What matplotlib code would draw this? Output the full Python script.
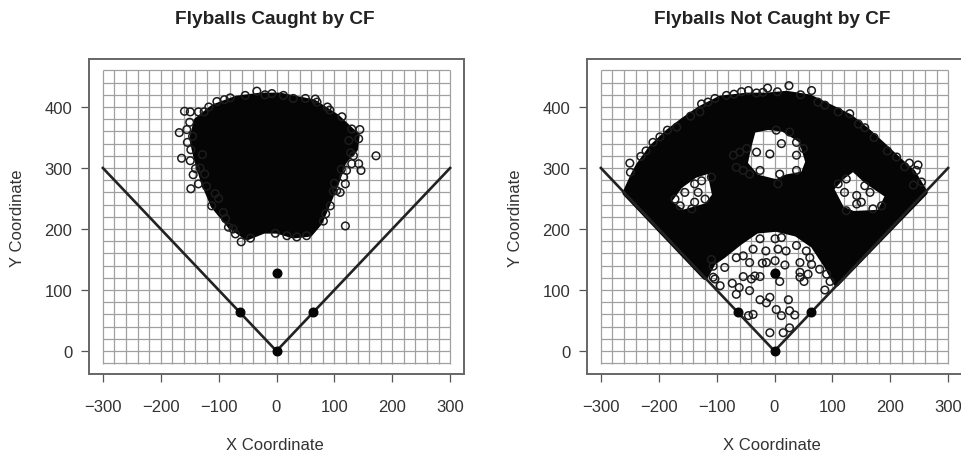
import matplotlib
matplotlib.use("Agg")
import numpy as np
import matplotlib.pyplot as plt
from matplotlib.path import Path
from matplotlib.patches import PathPatch

plt.rcParams['font.family'] = ['Liberation Sans', 'DejaVu Sans']

titles = ["Flyballs Caught by CF", "Flyballs Not Caught by CF"]
x_label = "X Coordinate"
y_label = "Y Coordinate"
x_ticks = [-300, -200, -100, 0, 100, 200, 300]
y_ticks = [0, 100, 200, 300, 400]
foul_x = [-300, 0, 300]
foul_y = [300, 0, 300]
base_x = [0, 63.6, -63.6, 0]
base_y = [0, 63.6, 63.6, 127.3]

# Saturated (fully overplotted) regions, read as outlines from the picture
caught_mass_x = [-138,-109,-69,-28,6,64,104,139,136,116,104,87,75,58,29,1,-22,-51,-80,-109,-126,-138,-146]
caught_mass_y = [378,400,414,419,419,408,384,353,331,310,277,238,211,192,189,197,197,186,205,238,277,315,348]

missed_mass_x = [-258,-244,-235,-212,-184,-158,-129,-94,-48,-14,21,61,96,130,159,188,216,239,260,107,90,67,38,3,-31,-60,-89,-106,-120]
missed_mass_y = [259,288,304,334,359,378,397,414,419,419,422,416,400,384,362,337,312,293,260,110,140,173,192,200,197,178,156,145,121]
hole_center_x = [-37,-11,15,47,58,50,21,3,-31,-51,-45]
hole_center_y = [362,367,364,345,310,290,285,277,285,307,334]
hole_left_x = [-112,-103,-117,-158,-184,-163,-138]
hole_left_y = [296,255,238,227,244,271,288]
hole_right_x = [136,159,196,182,136,116,98,116]
hole_right_y = [299,279,255,227,225,233,266,285]

# Individually visible balls
caught_x = [-34,-8,-54,67,50,12,29,-103,-117,-135,-149,-159,-168,-155,-154,144,142,146,142,130,172,119,-164,-149,-140,-144,-135,-148,-121,-106,-112,-92,-83,-71,-61,-45,-2,18,35,52,81,110,119,116,121,104,93,133,113,130,
            -150,-145,-132,-128,-124,-90,-80,-125,125,128,112,100,85,92,70,98,-20,-88,-100,-75,88,-148]
caught_y = [426,422,419,413,414,419,414,409,400,392,392,393,358,363,342,363,348,296,307,307,320,205,316,312,299,289,274,266,270,258,238,227,203,192,179,185,193,189,187,189,213,260,274,285,296,263,238,320,384,364,
            375,352,300,322,290,412,415,392,345,325,298,275,225,395,408,262,420,217,250,200,400,330]

missed_x = [-250,-249,-231,-198,-169,-126,-129,-103,-83,-57,-45,-31,-12,25,64,87,130,156,211,233,248,254,245,
            -222,-210,-185,-145,-115,-70,-20,5,45,75,110,145,172,195,225,240,
            -8,15,26,-37,-45,35,26,12,3,-8,-25,-14,24,-43,-66,-61,-73,-94,-54,-40,-25,-34,9,1,44,44,51,58,64,87,96,90,18,1,-14,-21,-15,6,20,-37,-54,-66,38,55,-25,1,12,-86,-106,-109,-106,-103,78,61,44,-43,
            12,-8,-25,9,38,38,6,3,26,38,50,-31,-48,-60,-66,-54,-43,-71,
            -138,-126,-132,-155,-172,-138,-120,-163,-143,-109,
            124,110,121,142,165,150,142,124,170,185,156]
missed_y = [308,293,319,351,367,405,392,414,419,425,427,423,431,435,427,403,389,366,318,308,305,277,296,
            328,342,362,385,408,421,424,425,420,408,392,372,350,328,302,272,
            30,30,38,60,58,59,66,58,68,88,84,79,84,99,93,104,111,107,122,118,122,123,114,126,129,121,114,126,142,100,114,126,141,148,145,144,164,167,164,167,156,153,173,164,184,184,186,137,139,150,121,118,134,153,145,145,
            340,323,296,290,321,296,274,362,359,342,332,326,332,326,301,296,290,321,
            274,279,260,260,249,244,249,238,233,285,
            282,274,260,255,260,244,241,230,233,238,271]

W, H = 961, 452
fig = plt.figure(figsize=(W / 100, H / 100), dpi=100)
boxes = [(89, 60, 375, 315), (587, 60, 375, 315)]
axes = []
for (l, t, w, h) in boxes:
    axes.append(fig.add_axes([l / W, 1 - (t + h) / H, w / W, h / H]))


def ring(xs, ys, reverse=False):
    pts = list(zip(xs, ys))
    if reverse:
        pts = pts[::-1]
    return pts + [pts[0]], [Path.MOVETO] + [Path.LINETO] * (len(pts) - 1) + [Path.CLOSEPOLY]


def compound(rings):
    verts, codes = [], []
    for v, c in rings:
        verts += v
        codes += c
    return Path(verts, codes)


paths = [
    compound([ring(caught_mass_x, caught_mass_y)]),
    compound([ring(missed_mass_x, missed_mass_y),
              ring(hole_center_x, hole_center_y, True),
              ring(hole_left_x, hole_left_y, True),
              ring(hole_right_x, hole_right_y, True)]),
]
balls = [(caught_x, caught_y), (missed_x, missed_y)]

for i, ax in enumerate(axes):
    ax.set_xlim(-324, 324)
    ax.set_ylim(-37.7, 478.7)
    ax.vlines(np.arange(-300, 301, 20), -21, 460, color="#a0a0a0", lw=0.9, zorder=1)
    ax.hlines(np.arange(-20, 461, 20), -300, 300, color="#a0a0a0", lw=0.9, zorder=1)
    ax.add_patch(PathPatch(paths[i], facecolor="#050505", edgecolor="#050505", lw=4, joinstyle="round", zorder=2))
    ax.scatter(balls[i][0], balls[i][1], s=30, facecolors="none", edgecolors="#1c1c1c", linewidths=1.1, zorder=3)
    ax.plot(foul_x, foul_y, color="#222222", lw=1.9, zorder=4)
    ax.plot(base_x, base_y, "o", color="#050505", ms=6.2, zorder=5)
    ax.set_xticks(x_ticks, [str(t).replace("-", "\u2212") for t in x_ticks])
    ax.set_yticks(y_ticks)
    ax.tick_params(axis="x", length=6, width=0.9, color="#555555", labelcolor="#333333", labelsize=12, pad=12)
    ax.tick_params(axis="y", length=6, width=0.9, color="#555555", labelcolor="#333333", labelsize=12, pad=6)
    for s in ax.spines.values():
        s.set_color("#666666")
        s.set_linewidth(1.4)
    cx = (275 if i == 0 else 772) / W
    fig.text(cx, 1 - 20 / H, titles[i], ha="center", va="center", fontsize=13.7, fontweight="bold", color="#222222")
    fig.text(cx, 1 - 446 / H, x_label, ha="center", va="center", fontsize=12, color="#333333")
    fig.text((18 if i == 0 else 516) / W, 1 - 218 / H, y_label, ha="center", va="center", rotation=90, fontsize=12, color="#333333")

fig.savefig("out.png", dpi=100)
